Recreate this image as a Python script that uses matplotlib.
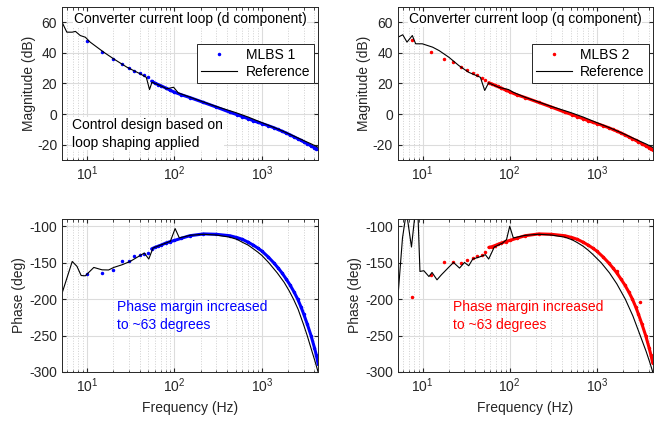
import numpy as np
import matplotlib.pyplot as plt
from matplotlib.ticker import LogLocator, NullFormatter

plt.rcParams['font.family'] = ['Liberation Sans', 'DejaVu Sans']
plt.rcParams['font.size'] = 10
plt.rcParams['axes.unicode_minus'] = False

# ---- reference (black) curves ----
ref_d_mag_f = [5.2, 5.9, 6.8, 7.4, 8.4, 9.6, 10.9, 15.6, 20.3, 28.7, 40.6, 47.8, 52, 55.5,
               69, 82, 98, 111, 152, 200, 300, 500, 700, 1000, 1500, 2000, 3000, 3700, 4400]
ref_d_mag = [60, 53.5, 53.5, 54, 51.3, 50.2, 47, 40.4, 36, 30.6, 26.3, 24, 16, 20.8,
             18.6, 16.5, 17.5, 13.8, 11, 8.5, 5, 1, -2, -5.6, -9.6, -12.7, -17.3, -19.6, -21.8]

ref_q_mag_f = [5.2, 5.9, 6.6, 7.6, 8.3, 9.9, 13, 15.4, 20, 26, 33.7, 46, 51.6, 57.2,
               74.4, 97, 110, 150, 200, 300, 500, 700, 1000, 1500, 2000, 3000, 3700, 4400]
ref_q_mag = [50.2, 51.8, 47, 51.3, 45.9, 45.9, 43.7, 41.5, 37.1, 31.7, 27.3, 24, 15.4, 20.4,
             17.5, 16, 14.2, 11, 8.5, 5, 1, -2, -5.6, -9.6, -12.7, -17.3, -19.6, -21.8]

ref_d_ph_f = [5.2, 6.8, 7.7, 8.6, 9.6, 12, 14.9, 17.7, 20.3, 25.3, 31.2, 39, 45.3, 51, 57,
              69, 90, 102, 114, 152, 215, 300, 430, 520, 600, 700, 800, 900, 1000, 1200,
              1500, 1800, 2050, 2300, 2600, 3000, 3300, 3600, 4000, 4400]
ref_d_ph = [-192, -148.3, -155, -167.6, -168, -156.5, -159.8, -160, -156.5, -152.8, -148.3,
            -141.4, -136.7, -145, -129.8, -126, -120.7, -103.2, -116, -112.4, -111, -112,
            -115, -118, -122, -126, -131, -135.5, -140, -150, -164, -177, -188.5, -200,
            -214, -235, -250, -265, -283, -300]

ref_q_ph_f = [5.2, 5.86, 6.5, 7.43, 8.3, 8.8, 9.3, 10.3, 11.8, 12.8, 14.6, 16.4, 19.5, 22.6,
              26.5, 30.2, 33.8, 37.6, 44.8, 52.5, 57.3, 66.5, 82.8, 91.9, 100, 110, 150,
              215, 300, 430, 520, 600, 700, 800, 900, 1000, 1124, 1400, 1700, 2128, 2600,
              3160, 3700, 4100, 4400]
ref_q_ph = [-196, -116, -80, -128.5, -75, -80, -162, -161, -169, -163.4, -173.5, -166.6,
            -157.4, -149.7, -157.4, -149.7, -154.2, -145, -142.2, -139, -145, -128.5, -123,
            -118.3, -100, -116, -112.5, -111, -112, -115, -118.5, -122.5, -127.5, -133,
            -138.5, -144, -150, -164, -179, -200, -223, -250, -272, -288, -300]

# ---- MLBS measurements ----
mlbs1_f = [10, 15, 20, 25, 30, 35, 40, 45, 50, 55, 60, 65, 70, 80, 90, 100, 120, 150,
           215, 300, 430, 520, 600, 700, 800, 900, 1000, 1180, 1365, 1530, 1700, 1900,
           2100, 2330, 2570, 2800, 3000, 3300, 3650, 4000, 4200, 4400]
mlbs1_mag = [48, 40.4, 36, 33, 30.2, 28.2, 26.5, 25.5, 24.3, 21.5, 20.2, 19.3, 18.5, 17,
             15.5, 14.3, 12.6, 10.8, 7.6, 4.6, 1.2, -0.4, -1.7, -3.1, -4.4, -5.4, -6.2,
             -7.6, -8.9, -10.1, -11.2, -12.4, -13.6, -14.9, -16.1, -17.2, -18.1, -19.4,
             -20.8, -22, -22.6, -23.1]
mlbs1_ph = [-166, -163.5, -160, -148.3, -147, -141, -139, -138.5, -137, -131, -129, -127.5,
            -126, -123, -121, -119.5, -116.5, -113, -110.5, -111, -113, -115.5, -118, -122,
            -126, -130, -134, -142, -150, -157, -164, -172.5, -180.5, -190, -200, -210.5,
            -220, -234, -250, -267, -277, -289]

mlbs2_f = [7.5, 12.5, 17.5, 22.5, 27.5, 32.5, 37.5, 42.5, 47.5, 52.5, 57.5, 62.5, 67.5,
           72.5, 80, 90, 100, 120, 150, 215, 300, 430, 520, 600, 700, 800, 900, 1000, 1180,
           1365, 1530, 1700, 1900, 2100, 2330, 2570, 2800, 3000, 3300, 3650, 4000, 4200, 4400]
mlbs2_mag = [48.5, 40.4, 36, 34.1, 30.9, 28.9, 27, 25.3, 23.7, 22.3, 20.5, 19.6, 18.8, 18,
             17, 15.6, 14.5, 12.6, 10.8, 7.6, 4.6, 1.2, -0.4, -1.7, -3.1, -4.4, -5.4, -6.2,
             -7.6, -8.9, -10.1, -11.2, -12.4, -13.6, -14.9, -16.1, -17.2, -18.1, -19.4,
             -20.8, -22, -22.6, -23.3]
mlbs2_ph = [-197, -167, -148.5, -149, -150, -146, -143, -141, -139, -136, -129, -128, -126.5,
            -125, -123, -121, -119.5, -116.5, -113, -110.5, -111, -113, -115.5, -118, -122,
            -126, -130, -134, -142, -150, -157, -164, -172.5, -180.5, -190, -200, -210.5,
            -220, -234, -250, -267, -277, -288]
# scattered outliers of MLBS 2 phase
out2_f = [1710, 3100]
out2_ph = [-162, -204]

xlim = (5.2, 4400)
grid_col = '#dcdcdc'
box_col = '#262626'

fig = plt.figure(figsize=(6.6, 4.22), dpi=100)
ax_dm = fig.add_axes([0.094, 0.621, 0.388, 0.3626])
ax_qm = fig.add_axes([0.603, 0.621, 0.386, 0.3626])
ax_dp = fig.add_axes([0.094, 0.1185, 0.388, 0.3626])
ax_qp = fig.add_axes([0.603, 0.1185, 0.386, 0.3626])


def style(ax):
    ax.set_xscale('log')
    ax.set_xlim(*xlim)
    ax.xaxis.set_major_locator(LogLocator(base=10, numticks=10))
    ax.xaxis.set_minor_locator(LogLocator(base=10, subs=np.arange(2, 10), numticks=20))
    ax.xaxis.set_minor_formatter(NullFormatter())
    ax.grid(True, which='major', color=grid_col, linewidth=0.8)
    ax.grid(True, which='minor', color='#d0d0d0', linestyle=':', linewidth=0.7)
    ax.set_axisbelow(True)
    ax.tick_params(which='both', direction='in', top=True, right=True,
                   colors=box_col, labelsize=10)
    ax.tick_params(which='major', length=3)
    ax.tick_params(which='minor', length=1.8)
    for s in ax.spines.values():
        s.set_color(box_col)
        s.set_linewidth(0.7)


def draw(ax, f, vals, col, rf, rv, label):
    f = np.array(f)
    vals = np.array(vals)
    dense = f >= 55
    ax.plot(f[dense], vals[dense], color=col, linewidth=2.2, solid_capstyle='round')
    ax.plot(f, vals, linestyle='none', marker='.', markersize=3, color=col, label=label)
    ax.plot(rf, rv, color='black', linewidth=0.8, label='Reference')


# magnitude
draw(ax_dm, mlbs1_f, mlbs1_mag, '#0000ff', ref_d_mag_f, ref_d_mag, 'MLBS 1')
draw(ax_qm, mlbs2_f, mlbs2_mag, '#ff0000', ref_q_mag_f, ref_q_mag, 'MLBS 2')
for ax, title in [(ax_dm, 'Converter current loop (d component)'),
                  (ax_qm, 'Converter current loop (q component)')]:
    style(ax)
    ax.set_ylim(-30, 70)
    ax.set_yticks([-20, 0, 20, 40, 60])
    ax.set_ylabel('Magnitude (dB)', color=box_col, labelpad=1)
    ax.text(0.5, 0.965, title, transform=ax.transAxes, ha='center', va='top',
            fontsize=10, color='black',
            bbox=dict(facecolor='white', edgecolor='none', pad=0.5))
    leg = ax.legend(loc='upper right', bbox_to_anchor=(0.985, 0.76), fontsize=10,
                    fancybox=False, framealpha=1, edgecolor=box_col,
                    handlelength=2.6, borderpad=0.3, labelspacing=0.25,
                    handletextpad=0.6, borderaxespad=0)
    leg.get_frame().set_linewidth(0.7)

ax_dm.text(0.04, 0.275, 'Control design based on\nloop shaping applied',
           transform=ax_dm.transAxes, ha='left', va='top', fontsize=10,
           linespacing=1.35, color='black',
           bbox=dict(facecolor='white', edgecolor='none', pad=0.5))

# phase
draw(ax_dp, mlbs1_f, mlbs1_ph, '#0000ff', ref_d_ph_f, ref_d_ph, 'MLBS 1')
draw(ax_qp, mlbs2_f, mlbs2_ph, '#ff0000', ref_q_ph_f, ref_q_ph, 'MLBS 2')
ax_qp.plot(out2_f, out2_ph, linestyle='none', marker='.', markersize=3, color='#ff0000')
for ax, col in [(ax_dp, '#0000ff'), (ax_qp, '#ff0000')]:
    style(ax)
    ax.set_ylim(-300, -90)
    ax.set_yticks([-300, -250, -200, -150, -100])
    ax.set_ylabel('Phase (deg)', color=box_col, labelpad=2)
    ax.set_xlabel('Frequency (Hz)', color=box_col)
    ax.text(0.215, 0.47, 'Phase margin increased\nto ~63 degrees', transform=ax.transAxes,
            ha='left', va='top', fontsize=10, color=col, linespacing=1.35)

fig.savefig('out.png', dpi=100)
